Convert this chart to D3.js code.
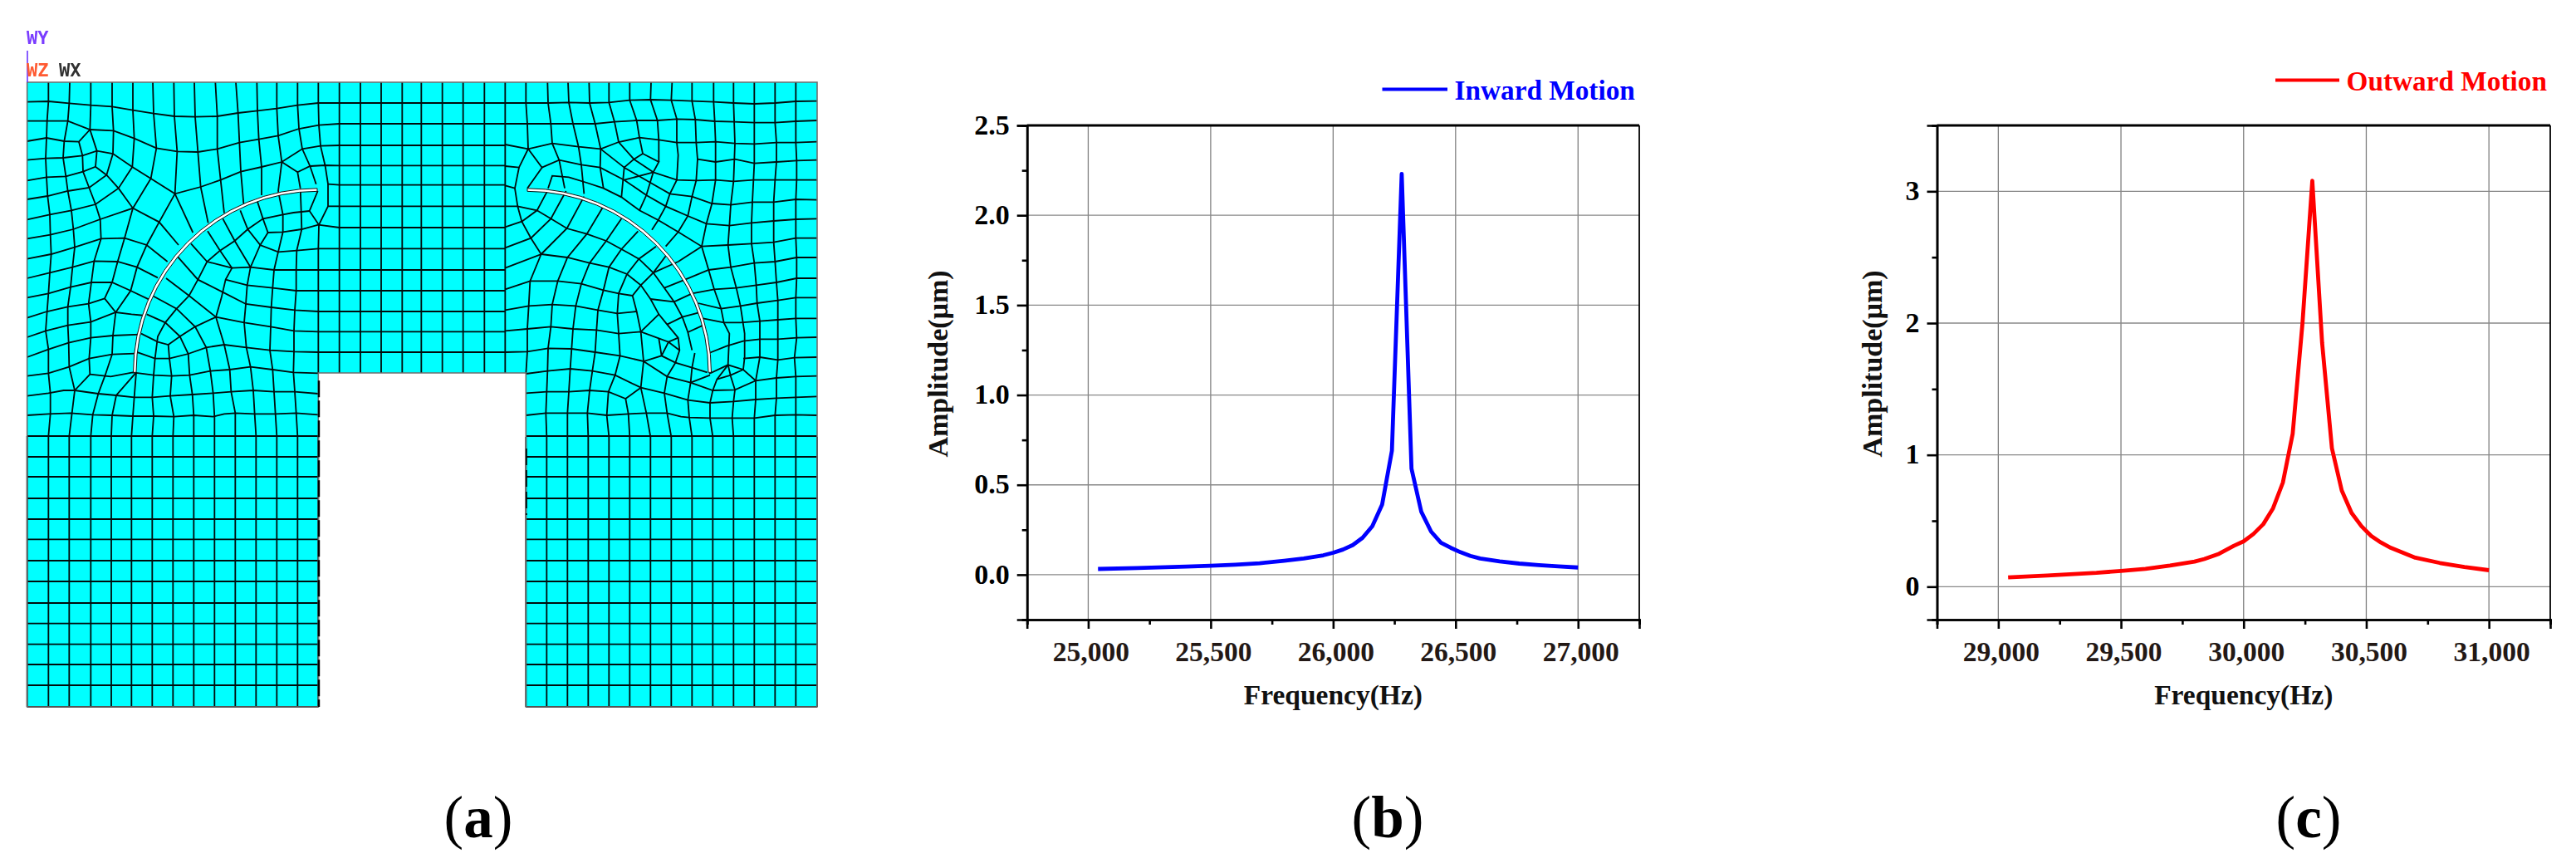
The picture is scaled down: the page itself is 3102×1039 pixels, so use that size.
<!DOCTYPE html>
<html>
<head>
<meta charset="utf-8">
<script src="https://cdn.jsdelivr.net/npm/d3@7"></script>
<style>
  html, body { margin: 0; background: #fff; }
  text { font-family: "Liberation Serif", serif; font-weight: bold; }
</style>
</head>
<body>
<div id="figure"></div>
<script>
// panel (b)
const inwardFrequency = [25040, 25200, 25400, 25500, 25600, 25700, 25800, 25880, 25960, 26000, 26040, 26080, 26120, 26160, 26200, 26240, 26280, 26320, 26360, 26400, 26440, 26480, 26520, 26560, 26600, 26680, 26760, 26840, 26920, 27000];
const inwardAmplitude = [0.032, 0.037, 0.045, 0.05, 0.056, 0.064, 0.078, 0.09, 0.108, 0.122, 0.14, 0.165, 0.205, 0.27, 0.39, 0.69, 2.23, 0.59, 0.35, 0.24, 0.178, 0.15, 0.125, 0.105, 0.09, 0.074, 0.062, 0.053, 0.046, 0.04];
const inwardXTicks = [25000, 25500, 26000, 26500, 27000];
const inwardXMinor = [24750, 25250, 25750, 26250, 26750, 27250];
const inwardYTicks = [0, 0.5, 1, 1.5, 2, 2.5];
const inwardYMinor = [-0.25, 0.25, 0.75, 1.25, 1.75, 2.25];

// panel (c)
const outwardFrequency = [29040, 29200, 29400, 29500, 29600, 29700, 29800, 29840, 29900, 29960, 30000, 30040, 30080, 30120, 30160, 30200, 30240, 30280, 30320, 30360, 30400, 30440, 30480, 30520, 30560, 30600, 30700, 30800, 30900, 31000];
const outwardAmplitude = [0.07, 0.085, 0.105, 0.12, 0.135, 0.16, 0.19, 0.21, 0.25, 0.31, 0.344, 0.4, 0.474, 0.595, 0.79, 1.16, 2.0, 3.08, 1.85, 1.05, 0.73, 0.56, 0.46, 0.385, 0.335, 0.295, 0.22, 0.18, 0.15, 0.125];
const outwardXTicks = [29000, 29500, 30000, 30500, 31000];
const outwardXMinor = [28750, 29250, 29750, 30250, 30750, 31250];
const outwardYTicks = [0, 1, 2, 3];
const outwardYMinor = [-0.25, 0.5, 1.5, 2.5, 3.5];

// panel (a): mesh, in units of a third of a pixel
const gridRows = [372, 447, 525, 598, 668, 745, 822, 898, 975, 1050, 1125, 1198, 1272];
const gridCols = [1226, 1302, 1377, 1453, 1522, 1598, 1673, 1750, 1825];
const legRows = [1575, 1650, 1722, 1800, 1875, 1948, 2025, 2100, 2178, 2252, 2327, 2400, 2475, 2553];
const legColsLeft = [98, 175, 250, 328, 402, 475, 550, 625, 700, 775, 850, 925, 1000, 1075, 1150];
const legColsRight = [1900, 1975, 2050, 2125, 2200, 2275, 2350, 2425, 2500, 2575, 2650, 2725, 2800, 2875, 2952];

const meshOutline = [[98, 297], [2952, 297], [2952, 2553], [1900, 2553], [1900, 1347], [1150, 1347], [1150, 2553], [98, 2553]];

const leftMesh = [
  [[98,368],[175,366],[250,373],[328,380],[405,385],[480,398],[555,410],[630,420],[705,422],[785,420],[860,408],[930,400],[1000,392],[1075,380],[1150,372],[1226,372]],
  [[98,437],[170,437],[245,437],[325,468],[410,472],[485,500],[565,535],[640,547],[715,549],[785,538],[865,515],[935,503],[1005,490],[1080,465],[1152,452],[1226,447]],
  [[98,510],[168,498],[232,510],[285,512],[325,468]],
  [[98,578],[165,572],[228,570],[298,562],[350,545],[408,555],[478,603],[545,645],[632,700],[725,675],[797,650],[870,620],[945,603],[1018,585],[1092,538],[1158,527],[1226,525]],
  [[98,652],[168,640],[238,637],[300,620],[345,602],[385,632],[428,680],[480,752],[575,802],[645,885]],
  [[98,720],[172,708],[245,690],[322,678],[385,632],[408,555]],
  [[98,793],[180,775],[258,760],[345,738],[428,680],[478,603]],
  [[98,862],[182,848],[265,828],[362,792],[480,752],[545,645],[565,535]],
  [[98,935],[185,918],[270,893],[365,862],[450,860],[530,885],[605,945]],
  [[98,1005],[180,985],[262,965],[340,943],[425,945],[495,965],[570,1003]],
  [[98,1075],[175,1060],[255,1037],[330,1020],[405,1020],[472,1050],[545,1085]],
  [[98,1148],[170,1125],[245,1108],[320,1097],[378,1078]],
  [[98,1218],[165,1195],[245,1175],[328,1163],[418,1128],[475,1135],[525,1140]],
  [[98,1290],[175,1262],[248,1238],[328,1220],[408,1212],[505,1208]],
  [[98,1358],[175,1348],[250,1325],[322,1295],[405,1280],[488,1277]],
  [[325,1352],[400,1360],[480,1345],[555,1355],[620,1358],[685,1355],[760,1340],[830,1335],[905,1325],[985,1335],[1060,1345],[1150,1348]],
  [[98,1430],[175,1420],[230,1410],[270,1410],[355,1422],[420,1428],[485,1435],[550,1435],[615,1430],[695,1425],[770,1420],[835,1415],[915,1410],[990,1415],[1065,1415],[1150,1422]],
  [[98,1500],[175,1495],[255,1492],[335,1498],[405,1500],[480,1503],[555,1503],[628,1505],[700,1500],[770,1505],[810,1495],[850,1492],[920,1495],[995,1495],[1070,1492],[1150,1498]],
  // verticals above the arc
  [[175,297],[175,366],[170,437],[168,498],[165,572],[168,640],[172,708],[180,775],[182,848],[185,918],[180,985],[175,1060],[170,1125],[165,1195],[175,1262],[175,1348],[182,1420],[182,1495],[175,1575]],
  [[252,297],[250,373],[245,437],[232,510],[228,570],[238,637],[245,690],[258,760],[265,828],[270,893],[262,965],[255,1037],[245,1108],[245,1175],[248,1238],[250,1325],[270,1410],[260,1492],[250,1575]],
  [[328,297],[328,380],[325,468],[350,545],[345,602]],
  [[285,512],[298,562],[300,620],[322,678],[345,738],[362,792],[365,862],[340,943],[330,1020],[320,1097],[328,1163],[328,1220],[322,1295],[325,1352],[270,1410]],
  [[405,297],[405,385],[410,472],[408,555]],
  [[480,297],[480,398],[485,500],[478,603]],
  [[552,297],[555,410],[565,535]],
  [[628,297],[630,420],[640,547],[632,700],[575,802],[530,885],[495,965],[472,1050],[418,1128]],
  [[632,700],[697,840]],
  [[702,297],[705,422],[715,549],[725,675],[752,805]],
  [[778,297],[785,420],[785,538],[797,650],[810,770]],
  [[852,297],[860,408],[865,515],[870,620],[880,735]],
  [[928,297],[930,400],[935,503],[945,603],[945,705]],
  [[1000,297],[1000,392],[1005,490],[1018,585],[1005,690]],
  [[1075,297],[1075,380],[1080,465],[1092,538],[1120,600],[1142,665]],
  [[1150,297],[1150,372],[1152,452],[1158,527],[1175,600],[1185,665],[1185,745],[1152,812],[1118,762],[1148,690]],
  [[1018,585],[1075,622],[1120,600],[1175,597],[1226,598]],
  [[1075,622],[1085,680]],
  [[1185,665],[1226,668]],
  [[1185,745],[1226,745]],
  [[480,752],[450,860],[425,945],[405,1020],[378,1078],[418,1128],[408,1212],[405,1280],[380,1355],[355,1422],[335,1498],[328,1575]],
  [[492,1345],[420,1428],[405,1500],[402,1575]],
  [[492,1345],[485,1435],[480,1503],[475,1575]],
  // inside the arc
  [[1150,812],[1090,828],[1022,838],[968,840],[950,790],[895,828],[848,870],[795,905],[748,945],[715,1010],[683,1068],[638,1115],[597,1165],[570,1215],[560,1295],[555,1355],[550,1435],[555,1503],[550,1575]],
  [[1150,812],[1226,822]],
  [[1118,762],[1060,768],[1022,775],[950,790],[930,728]],
  [[868,760],[895,828],[940,885],[905,965],[893,1030],[888,1098],[882,1165],[890,1255],[905,1325],[915,1410],[920,1495],[925,1575]],
  [[968,840],[940,885],[1005,910],[1072,905],[1150,898],[1226,898]],
  [[805,790],[848,870],[905,965]],
  [[750,835],[795,905],[838,968],[905,965],[990,975],[1070,975],[1150,975],[1226,975]],
  [[690,880],[748,945],[838,968],[815,1010],[800,1075],[780,1145],[810,1245],[830,1335],[835,1415],[850,1492],[850,1575]],
  [[640,925],[715,1010],[810,1058],[888,1098],[980,1110],[1065,1120],[1150,1125],[1226,1125]],
  [[815,1010],[893,1030],[985,1040],[1070,1050],[1150,1050],[1226,1050]],
  [[600,1005],[683,1068],[780,1145],[882,1165],[978,1180],[1062,1195],[1150,1198],[1226,1198]],
  [[555,1070],[638,1115],[705,1180],[780,1145]],
  [[530,1135],[597,1165],[650,1215],[705,1180],[745,1255],[760,1340],[770,1420],[775,1505],[775,1575]],
  [[510,1205],[570,1235],[608,1245],[650,1215],[680,1278],[685,1355],[695,1425],[700,1500],[700,1575]],
  [[608,1245],[612,1295],[620,1358],[615,1430],[628,1505],[625,1575]],
  [[490,1270],[560,1295],[612,1295],[680,1278],[745,1255],[810,1245],[890,1255],[975,1265],[1062,1270],[1150,1272],[1226,1272]],
  [[1005,690],[1022,775],[1022,838],[1005,910],[990,975],[985,1040],[980,1110],[978,1180],[975,1265],[985,1335],[990,1415],[995,1495],[1000,1575]],
  [[1085,680],[1088,760],[1090,828],[1072,905],[1070,975],[1070,1050],[1065,1120],[1062,1195],[1062,1270],[1060,1345],[1065,1415],[1070,1492],[1075,1575]],
  [[1152,812],[1150,898],[1150,1347]]
];

const rightMesh = [
  [[325,372],[400,372],[480,372],[555,370],[630,372],[700,370],[775,362],[850,360],[925,362],[1000,365],[1078,368],[1150,372],[1225,375],[1300,372],[1375,366],[1452,365]],
  [[325,447],[405,447],[490,447],[570,447],[650,447],[720,440],[800,435],[875,435],[945,430],[1012,432],[1082,438],[1150,440],[1225,443],[1300,443],[1375,438],[1452,435]],
  [[325,522],[408,538],[495,518],[590,530],[670,538],[735,513],[810,497],[880,505],[945,515],[1015,515],[1085,512],[1155,518],[1225,520],[1305,515],[1375,515],[1452,512]],
  [[400,297],[400,372],[405,447],[408,538]],
  [[455,918],[415,1015],[410,1105],[405,1188],[405,1270],[400,1350]],
  [[1020,575],[1085,585],[1155,575],[1225,590],[1305,585],[1378,580],[1452,578]],
  [[325,600],[375,605],[408,538],[458,605],[405,680]],
  [[375,605],[360,680],[370,745],[385,800],[418,860],[455,918],[325,968]],
  [[325,670],[360,680]],
  [[325,745],[370,745],[440,760],[490,790],[548,825],[620,845],[690,870],[745,900],[808,935],[860,985],[900,1040],[935,1090],[965,1145],[985,1200],[1000,1265]],
  [[325,820],[385,800]],
  [[325,895],[418,860],[490,790],[545,690]],
  [[458,605],[520,578],[600,595],[668,605],[755,650],[835,705],[905,745],[985,780],[1052,808],[1135,815],[1215,805],[1295,798],[1375,792],[1452,790]],
  [[480,680],[495,635],[555,640],[620,660],[680,680],[745,712],[810,760],[878,795],[950,838],[1035,890],[1130,885],[1215,880],[1295,875],[1375,860],[1452,860]],
  [[385,800],[440,760],[480,685]],
  [[455,918],[548,825],[610,710]],
  [[455,918],[550,930],[630,950],[700,965],[765,990],[815,1030],[850,1080],[880,1135],[910,1172],[950,1220],[955,1265],[940,1310]],
  [[680,745],[620,845],[550,930],[515,1015],[495,1100],[490,1180],[480,1258],[478,1340],[475,1415],[472,1492],[475,1578]],
  [[745,790],[690,870],[630,950],[600,1025],[580,1105],[570,1188],[565,1260],[560,1332],[555,1415],[550,1492],[550,1578]],
  [[805,835],[745,900],[700,965],[680,1048],[660,1120],[655,1192],[650,1272],[640,1340],[630,1410],[622,1492],[625,1578]],
  [[870,890],[808,935],[765,990],[735,1060],[730,1132],[735,1205],[740,1285],[722,1355],[698,1415],[692,1500],[700,1578]],
  [[905,925],[860,985],[815,1030],[785,1068],[800,1125],[815,1198],[825,1305]],
  [[325,1045],[415,1015],[515,1015],[600,1025],[680,1048],[735,1060],[785,1068]],
  [[325,1120],[410,1105],[495,1100],[580,1105],[660,1120],[730,1132],[800,1125]],
  [[325,1195],[405,1188],[490,1180],[570,1188],[655,1192],[735,1205],[815,1198],[880,1222],[915,1235],[890,1285]],
  [[880,1135],[815,1198]],
  [[935,1090],[850,1080]],
  [[900,1040],[975,1010]],
  [[950,945],[860,985]],
  [[915,1235],[950,1220]],
  [[915,1235],[955,1265]],
  [[880,1222],[890,1285]],
  [[1000,1060],[935,1090]],
  [[1022,1130],[965,1145],[910,1172]],
  [[1040,1175],[985,1200]],
  [[325,1272],[405,1270],[480,1258],[565,1260],[650,1272],[740,1285],[825,1305],[890,1285],[940,1310],[1000,1328],[1055,1345]],
  [[400,1350],[478,1340],[560,1332],[640,1340],[722,1355],[815,1400],[900,1420],[985,1445],[1065,1455],[1150,1450],[1230,1443],[1305,1438],[1375,1435],[1452,1432]],
  [[400,1420],[475,1415],[555,1415],[630,1410],[698,1415],[760,1440],[815,1400],[825,1305]],
  [[760,1440],[770,1495],[775,1578]],
  [[400,1500],[472,1492],[550,1492],[622,1492],[692,1500],[770,1495],[835,1492],[910,1492],[960,1505],[990,1508],[1065,1510],[1145,1510],[1225,1510],[1300,1500],[1375,1498],[1452,1500]],
  [[815,1400],[835,1492],[850,1578]],
  [[825,1305],[910,1360],[995,1382],[1075,1410],[1155,1408],[1230,1375],[1185,1335],[1130,1318],[1062,1350]],
  [[910,1360],[900,1420],[910,1492],[925,1578]],
  [[910,1360],[940,1310]],
  [[995,1382],[985,1445],[990,1508],[1000,1578]],
  [[995,1382],[1065,1355]],
  [[995,1382],[1000,1328],[1010,1275]],
  [[1075,1410],[1065,1455],[1065,1510],[1075,1578]],
  [[1155,1408],[1150,1450],[1145,1510],[1150,1578]],
  [[1075,1410],[1090,1370],[1130,1318],[1135,1205],[1115,1165],[1105,1115],[1080,1045],[1060,975],[1035,890],[1052,808],[1072,735],[1085,650],[1085,512],[1082,438],[1078,368],[1078,297]],
  [[1155,1408],[1140,1360],[1130,1318]],
  [[1090,1370],[1140,1355],[1185,1335]],
  [[1185,1335],[1190,1290],[1190,1205],[1175,1105],[1160,1040],[1140,965],[1130,885],[1135,815],[1140,740],[1150,655],[1155,518],[1150,372],[1150,297]],
  [[1230,1375],[1245,1290],[1245,1160],[1235,1095],[1232,1030],[1225,950],[1215,880],[1215,805],[1218,730],[1222,650],[1225,590],[1225,375],[1225,297]],
  [[1230,1375],[1230,1443],[1225,1510],[1225,1578]],
  [[1300,297],[1300,372],[1300,443],[1305,515],[1305,585],[1300,650],[1295,730],[1295,798],[1295,875],[1300,945],[1305,1020],[1310,1085],[1310,1155],[1310,1225],[1310,1300],[1305,1365],[1305,1438],[1300,1500],[1300,1578]],
  [[1375,297],[1375,366],[1375,438],[1375,515],[1378,580],[1378,650],[1375,720],[1375,792],[1375,860],[1378,930],[1378,1005],[1375,1075],[1375,1150],[1378,1220],[1370,1292],[1375,1360],[1375,1435],[1375,1498],[1375,1578]],
  [[1185,1295],[1245,1290],[1310,1300],[1370,1292],[1452,1290]],
  [[1230,1375],[1305,1365],[1375,1360],[1452,1358]],
  [[1062,1275],[1125,1250],[1185,1232],[1245,1225],[1310,1225],[1378,1220],[1452,1218]],
  [[1040,1150],[1115,1165],[1175,1165],[1245,1160],[1310,1155],[1375,1150],[1452,1150]],
  [[1022,1095],[1105,1115],[1175,1105],[1235,1095],[1310,1085],[1375,1075],[1452,1075]],
  [[1000,1060],[1080,1045],[1160,1040],[1232,1030],[1305,1020],[1378,1005],[1452,1005]],
  [[975,1010],[1060,975],[1140,965],[1225,950],[1300,945],[1378,930],[1452,930]],
  [[950,945],[1035,890]],
  [[755,650],[860,622],[945,650],[1015,652],[1085,650],[1150,655],[1222,650],[1300,650],[1378,650],[1452,650]],
  [[745,712],[755,605],[850,660],[920,700],[1000,710],[1072,735],[1140,740],[1218,730],[1295,730],[1375,720],[1452,722]],
  [[478,297],[480,372],[490,447],[495,518],[520,578],[540,680]],
  [[552,297],[555,370],[570,447],[590,530],[600,595],[610,700]],
  [[628,297],[630,372],[650,447],[670,538],[668,605],[680,680]],
  [[700,297],[700,370],[720,440],[735,513],[790,575],[755,605]],
  [[670,538],[755,605]],
  [[775,297],[775,362],[800,435],[810,497],[822,555],[880,585],[860,622],[835,705],[810,760]],
  [[790,575],[822,555]],
  [[790,575],[860,622]],
  [[852,297],[850,360],[875,435],[880,505],[880,585]],
  [[928,297],[925,362],[945,430],[945,515],[950,560],[945,650],[920,700],[905,745],[878,795],[855,830]],
  [[1000,297],[1000,365],[1012,432],[1015,515],[1020,575],[1015,652],[1000,710],[985,780],[950,838],[905,890]]
];

const chartWidth = 3102;
const chartHeight = 1039;

const svg = d3.select('#figure')
  .append('svg')
    .attr('width', chartWidth)
    .attr('height', chartHeight)
    .attr('viewBox', [0, 0, chartWidth, chartHeight])
    .style('display', 'block');

const defs = svg.append('defs');
defs.append('filter').attr('id', 'soft').append('feGaussianBlur').attr('stdDeviation', 0.4);
defs.append('filter').attr('id', 'softer').append('feGaussianBlur').attr('stdDeviation', 0.7);

// ---- panel (a) ----
const meshX = d3.scaleLinear().domain([0, 1560]).range([0, 520]);
const meshXRight = d3.scaleLinear().domain([0, 1560]).range([500, 1020]);
const meshY = d3.scaleLinear().domain([0, 1500]).range([0, 500]);

const meshLine = d3.line().x(d => meshX(d[0])).y(d => meshY(d[1]));
const meshLineRight = d3.line().x(d => meshXRight(d[0])).y(d => meshY(d[1]));

const mesh = svg.append('g').attr('filter', 'url(#soft)');

mesh.append('path')
  .attr('d', meshLine(meshOutline) + 'Z')
  .attr('fill', '#00ffff');

const regularLines = [];
gridRows.forEach(y => regularLines.push([[1226, y], [1825, y]]));
gridCols.forEach(x => regularLines.push([[x, 297], [x, 1347]]));
legRows.forEach(y => {
  regularLines.push([[98, y], [1150, y]]);
  regularLines.push([[1900, y], [2952, y]]);
});
legColsLeft.forEach(x => regularLines.push([[x, 1575], [x, 2553]]));
legColsRight.forEach(x => regularLines.push([[x, 1578], [x, 2553]]));

const meshStroke = '#000a0a';
const meshWidth = 1.8;

mesh.selectAll('.regular')
  .data(regularLines)
  .join('path')
    .attr('class', 'regular')
    .attr('d', meshLine)
    .attr('fill', 'none')
    .attr('stroke', meshStroke)
    .attr('stroke-width', meshWidth);

mesh.selectAll('.left-mesh')
  .data(leftMesh)
  .join('path')
    .attr('class', 'left-mesh')
    .attr('d', meshLine)
    .attr('fill', 'none')
    .attr('stroke', meshStroke)
    .attr('stroke-width', meshWidth);

mesh.selectAll('.right-mesh')
  .data(rightMesh)
  .join('path')
    .attr('class', 'right-mesh')
    .attr('d', meshLineRight)
    .attr('fill', 'none')
    .attr('stroke', meshStroke)
    .attr('stroke-width', meshWidth);

// outer edge of the part
mesh.append('path')
  .attr('d', meshLine(meshOutline) + 'Z')
  .attr('fill', 'none')
  .attr('stroke', '#6e6e6e')
  .attr('stroke-width', 1.6);

// dark dashes down the notch walls
mesh.append('line')
  .attr('x1', meshX(1152)).attr('x2', meshX(1152))
  .attr('y1', meshY(1375)).attr('y2', meshY(2553))
  .attr('stroke', '#000')
  .attr('stroke-width', 2.4)
  .attr('stroke-dasharray', '20 4');
mesh.append('line')
  .attr('x1', meshX(1902)).attr('x2', meshX(1902))
  .attr('y1', meshY(1620)).attr('y2', meshY(1860))
  .attr('stroke', '#000')
  .attr('stroke-width', 1.6)
  .attr('stroke-dasharray', '20 6');

// the two curved slots
const slotArc = d3.arc().innerRadius(218).outerRadius(221.5);
mesh.append('path')
  .attr('transform', `translate(${meshX(1146)},${meshY(1345)})`)
  .attr('d', slotArc({ startAngle: -Math.PI / 2, endAngle: 0 }))
  .attr('fill', '#fff')
  .attr('stroke', '#111')
  .attr('stroke-width', 1);
mesh.append('path')
  .attr('transform', `translate(${meshXRight(405)},${meshY(1345)})`)
  .attr('d', slotArc({ startAngle: 0, endAngle: Math.PI / 2 }))
  .attr('fill', '#fff')
  .attr('stroke', '#111')
  .attr('stroke-width', 1);

// triad in the corner
svg.append('rect').attr('x', 30).attr('y', 94).attr('width', 41).attr('height', 4).attr('fill', '#fff');
svg.append('line')
  .attr('x1', 33).attr('x2', 33).attr('y1', 61).attr('y2', 99)
  .attr('stroke', '#6a35ff').attr('stroke-width', 1.6);

const triad = svg.append('g')
  .attr('filter', 'url(#softer)')
  .style('font-size', '22px');
[['WY', 32, 53, '#7a3cff'], ['WZ', 32, 92, '#ff5a30'], ['WX', 71, 92, '#333333']].forEach(d => {
  triad.append('text')
    .attr('x', d[1])
    .attr('y', d[2])
    .attr('fill', d[3])
    .style('font-family', '"DejaVu Sans Mono", monospace')
    .text(d[0]);
});

// ---- panels (b) and (c) ----
function drawPlot(opts) {
  const x = d3.scaleLinear().domain(opts.xDomain).range(opts.xRange);
  const y = d3.scaleLinear().domain(opts.yDomain).range([746, 151]);
  const g = svg.append('g');

  g.selectAll('.grid-x')
    .data(opts.xTicks)
    .join('line')
      .attr('class', 'grid-x')
      .attr('x1', d => x(d)).attr('x2', d => x(d))
      .attr('y1', 151).attr('y2', 746)
      .attr('stroke', '#808080').attr('stroke-width', 1.3);

  g.selectAll('.grid-y')
    .data(opts.yTicks.filter(d => d < opts.yDomain[1]))
    .join('line')
      .attr('class', 'grid-y')
      .attr('x1', opts.xRange[0]).attr('x2', opts.xRange[1])
      .attr('y1', d => y(d)).attr('y2', d => y(d))
      .attr('stroke', '#888888').attr('stroke-width', 1.3);

  // frame
  g.append('line')
    .attr('x1', opts.xRange[0]).attr('x2', opts.xRange[1])
    .attr('y1', 151).attr('y2', 151)
    .attr('stroke', '#000').attr('stroke-width', 3);
  g.append('line')
    .attr('x1', opts.xRange[1]).attr('x2', opts.xRange[1])
    .attr('y1', 151).attr('y2', 746)
    .attr('stroke', '#000').attr('stroke-width', 1.8);

  const xMinor = d3.axisBottom(x).tickValues(opts.xMinor).tickSize(6).tickFormat('');
  const xMajor = d3.axisBottom(x).tickValues(opts.xTicks).tickSize(11).tickPadding(15).tickFormat(d3.format(','));
  const yMinor = d3.axisLeft(y).tickValues(opts.yMinor).tickSize(6).tickFormat('');
  const yMajor = d3.axisLeft(y).tickValues(opts.yTicks).tickSize(12).tickPadding(9).tickFormat(opts.yFormat);

  [xMinor, xMajor].forEach(a => {
    const axis = g.append('g').attr('transform', 'translate(0,746)').call(a);
    axis.select('.domain').attr('stroke', '#000').attr('stroke-width', 2.6);
    axis.selectAll('.tick line').attr('stroke', '#000').attr('stroke-width', 2.6);
    axis.selectAll('text')
      .attr('dx', 3)
      .attr('fill', '#231815')
      .style('font-size', '33.5px');
  });
  [yMinor, yMajor].forEach(a => {
    const axis = g.append('g').attr('transform', `translate(${opts.xRange[0]},0)`).call(a);
    axis.select('.domain').attr('stroke', '#000').attr('stroke-width', 2.6);
    axis.selectAll('.tick line').attr('stroke', '#000').attr('stroke-width', 2.6);
    axis.selectAll('text')
      .attr('dy', '0.3em')
      .attr('fill', '#000')
      .style('font-size', '34px');
  });

  const line = d3.line().x((d, i) => x(opts.freq[i])).y(d => y(d)).curve(d3.curveLinear);
  g.append('path')
    .attr('d', line(opts.amp))
    .attr('fill', 'none')
    .attr('stroke', opts.color)
    .attr('stroke-width', 4.8)
    .attr('stroke-linejoin', 'round');

  // axis titles
  g.append('text')
    .attr('x', x(opts.xDomain[0] + (opts.xDomain[1] - opts.xDomain[0]) / 2))
    .attr('y', 848)
    .attr('text-anchor', 'middle')
    .attr('fill', '#111')
    .style('font-size', '33.5px')
    .text('Frequency(Hz)');
  g.append('text')
    .attr('transform', `translate(${opts.yTitleX},438) rotate(-90)`)
    .attr('text-anchor', 'middle')
    .attr('fill', '#111')
    .style('font-size', '34px')
    .text('Amplitude(μm)');

  // legend
  g.append('line')
    .attr('x1', opts.legendLine[0]).attr('x2', opts.legendLine[1])
    .attr('y1', opts.legendY).attr('y2', opts.legendY)
    .attr('stroke', opts.color).attr('stroke-width', 4);
  g.append('text')
    .attr('x', opts.legendLine[1] + 8.5)
    .attr('y', opts.legendY + 12.5)
    .attr('fill', opts.color)
    .style('font-size', '33.3px')
    .text(opts.legend);
}

drawPlot({
  freq: inwardFrequency, amp: inwardAmplitude, color: '#0000ff', legend: 'Inward Motion',
  xDomain: [24750, 27250], xRange: [1236.7, 1974], yDomain: [-0.25, 2.5],
  xTicks: inwardXTicks, xMinor: inwardXMinor, yTicks: inwardYTicks, yMinor: inwardYMinor,
  yFormat: d3.format('.1f'), yTitleX: 1141, legendLine: [1664.5, 1743], legendY: 107.5
});

drawPlot({
  freq: outwardFrequency, amp: outwardAmplitude, color: '#ff0000', legend: 'Outward Motion',
  xDomain: [28750, 31250], xRange: [2332.5, 3071], yDomain: [-0.25, 3.5],
  xTicks: outwardXTicks, xMinor: outwardXMinor, yTicks: outwardYTicks, yMinor: outwardYMinor,
  yFormat: d3.format('d'), yTitleX: 2266, legendLine: [2740, 2817], legendY: 96.5
});

// ---- panel captions ----
[['a', 576], ['b', 1671], ['c', 2780]].forEach(d => {
  const caption = svg.append('text')
    .attr('x', d[1])
    .attr('y', 1008)
    .attr('text-anchor', 'middle')
    .attr('fill', '#000')
    .style('font-size', '71px');
  caption.append('tspan').style('font-weight', 'normal').text('(');
  caption.append('tspan').text(d[0]);
  caption.append('tspan').style('font-weight', 'normal').text(')');
});
</script>
</body>
</html>
